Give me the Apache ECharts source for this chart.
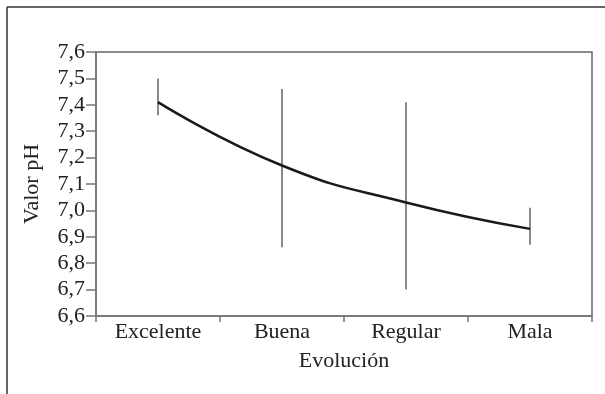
<!DOCTYPE html>
<html>
<head>
<meta charset="utf-8">
<script src="https://cdn.jsdelivr.net/npm/echarts@6/dist/echarts.min.js"></script>
<style>html,body{margin:0;padding:0;background:#fff}#c{width:605px;height:394px}</style>
</head>
<body>
<div id="c"></div>
<script>
var categories = ['Excelente', 'Buena', 'Regular', 'Mala'];
var meanValues = [7.41, 7.17, 7.03, 6.93];
var errLow = [7.36, 6.86, 6.70, 6.87];
var errHigh = [7.50, 7.46, 7.41, 7.01];
var yTicks = [6.6, 6.7, 6.8, 6.9, 7.0, 7.1, 7.2, 7.3, 7.4, 7.5, 7.6];

var font = 'Liberation Serif';
var chart = echarts.init(document.getElementById('c'), null, {renderer: 'canvas'});
var errData = categories.map(function (c, i) { return [i, errLow[i], errHigh[i]]; });

chart.setOption({
  animation: false,
  backgroundColor: '#fff',
  grid: {left: 96, right: 13, top: 52, bottom: 78, show: true, borderColor: '#666', borderWidth: 1.5, backgroundColor: 'transparent'},
  graphic: [
    {type: 'line', shape: {x1: 7, y1: 7, x2: 7, y2: 394}, style: {stroke: '#333', lineWidth: 1.5}},
    {type: 'line', shape: {x1: 7, y1: 7, x2: 605, y2: 7}, style: {stroke: '#333', lineWidth: 1.5}}
  ],
  xAxis: {
    type: 'category',
    data: categories,
    boundaryGap: true,
    name: 'Evolución',
    nameLocation: 'middle',
    nameGap: 34,
    nameTextStyle: {fontFamily: font, fontSize: 22, color: '#222'},
    axisLine: {lineStyle: {color: '#777', width: 1.5}},
    axisTick: {show: true, length: 6, alignWithLabel: false, lineStyle: {color: '#777', width: 1.5}},
    axisLabel: {fontFamily: font, fontSize: 22, color: '#222', margin: 5},
    splitLine: {show: false}
  },
  yAxis: {
    type: 'value',
    min: 6.6,
    max: 7.6,
    interval: 0.1,
    name: 'Valor pH',
    nameLocation: 'middle',
    nameGap: 53,
    nameTextStyle: {fontFamily: font, fontSize: 22, color: '#222'},
    axisLine: {show: true, lineStyle: {color: '#777', width: 1.5}},
    axisTick: {show: true, length: 10, lineStyle: {color: '#777', width: 1.5}},
    axisLabel: {
      fontFamily: font, fontSize: 22, color: '#222', margin: 11,
      formatter: function (v) {
        var t = yTicks.find(function (y) { return Math.abs(y - v) < 1e-6; });
        return (t !== undefined ? t : v).toFixed(1).replace('.', ',');
      }
    },
    splitLine: {show: false}
  },
  series: [
    {
      type: 'custom',
      data: errData,
      z: 2,
      renderItem: function (params, api) {
        var x = api.value(0);
        var p1 = api.coord([x, api.value(1)]);
        var p2 = api.coord([x, api.value(2)]);
        return {type: 'line', shape: {x1: p1[0], y1: p1[1], x2: p2[0], y2: p2[1]}, style: {stroke: '#8a8a8a', lineWidth: 2}};
      }
    },
    {
      type: 'line',
      data: meanValues,
      smooth: 0.5,
      symbol: 'none',
      z: 3,
      lineStyle: {color: '#1a1a1a', width: 2.5}
    }
  ]
});
</script>
</body>
</html>
